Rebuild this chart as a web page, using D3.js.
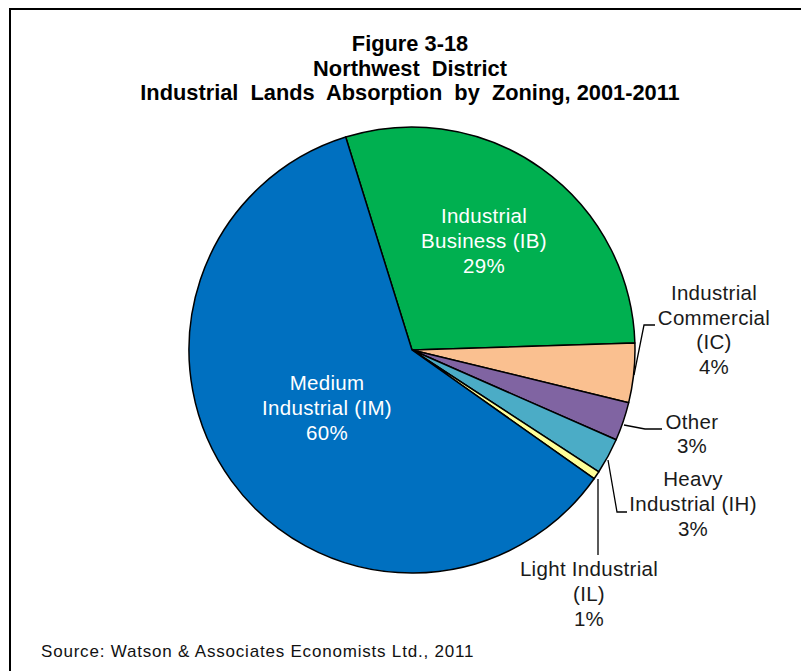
<!DOCTYPE html>
<html>
<head>
<meta charset="utf-8">
<script src="https://cdn.jsdelivr.net/npm/d3@7"></script>
<style>
  html, body { margin: 0; padding: 0; background: #fff; }
  svg { display: block; font-family: "Liberation Sans", Arial, sans-serif; }
</style>
</head>
<body>
<svg id="chart" width="801" height="671"></svg>
<script>
// Zoning categories, in drawing order (clockwise)
const categories = ["Industrial Business (IB)", "Industrial Commercial (IC)", "Other",
                    "Heavy Industrial (IH)", "Light Industrial (IL)", "Medium Industrial (IM)"];
// Share of absorbed industrial land, percent
const shares = [29.3, 4.3, 2.8, 2.6, 0.6, 60.4];
// Label lines for each slice (the rounded percentage is appended)
const labelLines = [
  ["Industrial", "Business (IB)"],
  ["Industrial", "Commercial", "(IC)"],
  ["Other"],
  ["Heavy", "Industrial (IH)"],
  ["Light Industrial", "(IL)"],
  ["Medium", "Industrial (IM)"]
];
const colors = ["#00B050", "#FAC090", "#8064A2", "#4BACC6", "#FFFF99", "#0070C0"];
const titleLines = ["Figure 3-18", "Northwest  District", "Industrial  Lands  Absorption  by  Zoning, 2001-2011"];
const sourceNote = "Source: Watson & Associates Economists Ltd., 2011";

const svg = d3.select("#chart");
const W = 801, H = 671;

// chart frame (top and left edges visible)
svg.append("path")
  .attr("d", `M10,${H} L10,9 L${W},9`)
  .attr("fill", "none").attr("stroke", "#000").attr("stroke-width", 2);

// title
const title = svg.append("text")
  .attr("text-anchor", "middle")
  .attr("font-weight", "bold")
  .attr("font-size", 21.8)
  .style("white-space", "pre")
  .attr("fill", "#000");
titleLines.forEach((t, i) => {
  title.append("tspan").attr("x", 410).attr("y", 51 + i * 24.5).text(t);
});

// pie
const cx = 412, cy = 350, R = 223;
const startDeg = -17.3;
const start = startDeg * Math.PI / 180;
const pie = d3.pie().sort(null).value(d => d).startAngle(start).endAngle(start + 2 * Math.PI);
const arcs = pie(shares);
const arc = d3.arc().innerRadius(0).outerRadius(R);

const g = svg.append("g").attr("transform", `translate(${cx},${cy})`);
g.selectAll("path.slice")
  .data(arcs)
  .join("path")
  .attr("class", "slice")
  .attr("d", arc)
  .attr("fill", (d, i) => colors[i])
  .attr("stroke", "#000")
  .attr("stroke-width", 1.5)
  .attr("stroke-linejoin", "round");

// label placement: offsets from the pie centre (inside labels white, outside black)
const labelPos = [
  { x: 72, y: -109, inside: true },
  { x: 302, y: -20, inside: false },
  { x: 280, y: 84, inside: false },
  { x: 281, y: 154, inside: false },
  { x: 177, y: 244, inside: false },
  { x: -85, y: 58, inside: true }
];
// leader lines for outside labels, as offsets from the pie centre
const leaders = [
  null,
  [[222, 25], [232, -25], [243, -25]],
  [[212, 75], [233, 79], [250, 79]],
  [[196, 110], [205, 162], [215, 162]],
  [[186, 129], [186, 205]],
  null
];
const lineGen = d3.line();
leaders.forEach(pts => {
  if (!pts) return;
  g.append("path").attr("d", lineGen(pts))
    .attr("fill", "none").attr("stroke", "#000").attr("stroke-width", 1.3);
});

arcs.forEach((a, i) => {
  const p = labelPos[i];
  const lines = labelLines[i].concat([Math.round(shares[i]) + "%"]);
  const t = g.append("text")
    .attr("text-anchor", "middle")
    .attr("font-size", 20.5)
    .attr("letter-spacing", 0.3)
    .attr("fill", p.inside ? "#fff" : "#1a1a1a");
  const top = p.y - (lines.length - 1) * 24.7 / 2;
  lines.forEach((s, k) => {
    t.append("tspan").attr("x", p.x).attr("y", top + k * 24.7 + 7).text(s);
  });
});

// source note
svg.append("text")
  .attr("x", 41).attr("y", 657)
  .attr("font-size", 17)
  .attr("letter-spacing", 0.8)
  .attr("fill", "#111")
  .text(sourceNote);
</script>
</body>
</html>
